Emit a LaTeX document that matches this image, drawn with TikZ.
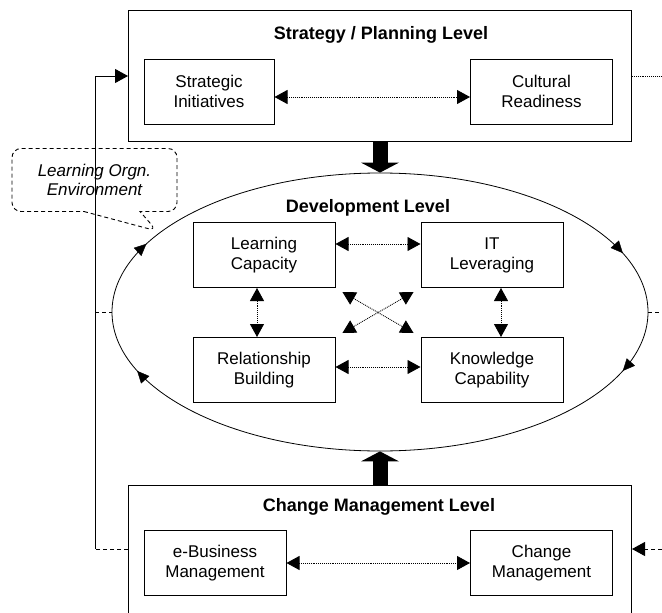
\documentclass[tikz,border=0pt]{standalone}
\usepackage{fontspec}
\setmainfont{Liberation Sans}
\usetikzlibrary{positioning,arrows.meta,shapes.geometric,shapes.callouts,decorations.markings}

\begin{document}
\begin{tikzpicture}[x=1pt, y=-1pt,
    level/.style = {draw, line width=1pt, minimum width=503pt, anchor=north, inner sep=0pt},
    item/.style = {draw, line width=1pt, minimum width=142pt, minimum height=65pt,
                   align=center, inner sep=0pt, font=\fontsize{17}{20}\selectfont},
    heading/.style = {font=\fontsize{18}{20}\bfseries\selectfont},
    tri/.tip = {Triangle[length=13pt, width=14pt]},
    link/.style = {densely dotted, line width=0.9pt, tri-tri},
    push/.style = {line width=15pt, -{Triangle[length=10pt, width=38pt, line width=0pt]}}]

  \useasboundingbox (0,0) rectangle (662,613);
  \clip (0,0) rectangle (662,613);

  % Strategy / Planning level
  \node[level, minimum height=131pt] (plan) at (380,10) {};
  \node[heading] (plantitle) at (381,35) {Strategy / Planning Level};
  \node[item, minimum width=130pt] (si) at (209,91.5) {Strategic\\Initiatives};
  \node[item] (cr) at (541.5,91.5) {Cultural\\Readiness};

  % Development level
  \node[draw, ellipse, line width=0.8pt, minimum width=536pt, minimum height=278pt, inner sep=0pt] (dev) at (380,312) {};
  \node[heading] (devtitle) at (368,208) {Development Level};
  \node[item] (lc) at (264,255) {Learning\\Capacity};
  \node[item] (it) at (492,255) {IT\\Leveraging};
  \node[item] (rb) at (264,370) {Relationship\\Building};
  \node[item] (kc) at (492,370) {Knowledge\\Capability};

  % Change management level
  \node[level, minimum height=160pt] (chg) at (380,485) {};
  \node[heading] (chgtitle) at (379,507) {Change Management Level};
  \node[item] (eb) at (215,563) {e-Business\\Management};
  \node[item] (cm) at (541.5,563) {Change\\Management};

  % Learning organisation environment
  \node[draw, dash pattern=on 4pt off 3pt, line width=0.9pt, rectangle callout, rounded corners=9pt,
        minimum width=165pt, minimum height=63pt, align=center,
        font=\fontsize{17}{19}\itshape\selectfont,
        callout absolute pointer={(157,231)}, callout pointer width=56pt]
    (env) at (94.5,180) {Learning Orgn.\\Environment};

  % Free ends of the outer lines
  \coordinate (fbtop) at (95,76);
  \coordinate (fbmid) at (95,312);
  \coordinate (fbbot) at (95,549);
  \coordinate (outtop) at (662,76);
  \coordinate (outmid) at (662,312);
  \coordinate (outbot) at (662,549);

  % Arrows between the levels
  \draw[push] (plan.south) -- (dev.north);
  \draw[push] (chg.north) -- (dev.south);

  % Links in the strategy level
  \draw[link] ([yshift=-5.5pt]si.east) -- ([yshift=-5.5pt]cr.west);

  % Links in the development level
  \draw[link] ([yshift=11pt]lc.east) -- ([yshift=11pt]it.west);
  \draw[link] ([yshift=3pt]rb.east) -- ([yshift=3pt]kc.west);
  \draw[link] ([xshift=-7pt]lc.south) -- ([xshift=-7pt]rb.north);
  \draw[link] ([xshift=9pt]it.south) -- ([xshift=9pt]kc.north);
  \draw[link, shorten <=8pt, shorten >=8pt] (lc.south east) -- (kc.north west);
  \draw[link, shorten <=8pt, shorten >=8pt] (it.south west) -- (rb.north east);

  % Links in the change management level
  \draw[link] (eb.east) -- (cm.west);

  % Feedback on the left
  \draw[dash pattern=on 4pt off 3pt, line width=1pt] (chg.west |- fbbot) -- (fbbot);
  \draw[line width=1pt, -tri] (fbbot) -- (fbtop) -- (plan.west |- fbtop);
  \draw[dash pattern=on 4pt off 3pt, line width=1pt] (fbmid) -- (dev.west);

  % Lines leaving on the right
  \draw[densely dotted, line width=0.9pt] (plan.east |- outtop) -- (outtop);
  \draw[dash pattern=on 4pt off 3pt, line width=1pt] (dev.east) -- (outmid);
  \draw[dash pattern=on 4pt off 3pt, line width=1pt, -tri] (outbot) -- (chg.east |- outbot);

  % Flow round the ellipse
  \path[decorate, decoration={markings,
      mark=at position 0.05 with {\arrow{Triangle[length=12pt, width=11pt]}},
      mark=at position 0.45 with {\arrow{Triangle[length=12pt, width=11pt]}},
      mark=at position 0.56 with {\arrow{Triangle[length=12pt, width=11pt]}},
      mark=at position 0.95 with {\arrow{Triangle[length=12pt, width=11pt]}}}]
    (dev.center) ellipse [x radius=268, y radius=139];

\end{tikzpicture}
\end{document}
